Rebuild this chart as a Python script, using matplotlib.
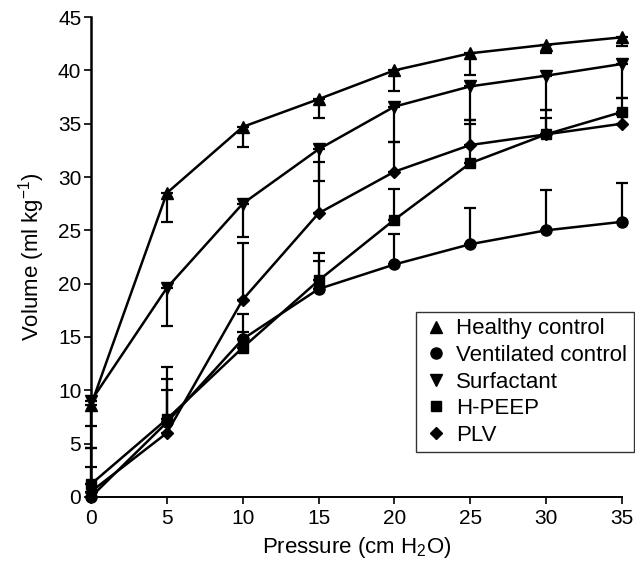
import matplotlib
matplotlib.use('Agg')
import matplotlib.pyplot as plt
from matplotlib.lines import Line2D
import numpy as np

plt.rcParams['font.family'] = ['Liberation Sans', 'DejaVu Sans']
plt.rcParams['mathtext.default'] = 'regular'

pressure = [0, 5, 10, 15, 20, 25, 30, 35]

# mean volumes and one-sided SD bars
healthy = [8.6, 28.5, 34.7, 37.3, 40.0, 41.6, 42.4, 43.1]
healthy_sd = [1.9, 2.7, 1.9, 1.8, 1.9, 2.0, 0.8, 0.8]
ventilated = [0.0, 7.0, 14.8, 19.5, 21.8, 23.7, 25.0, 25.8]
ventilated_sd = [0.5, 5.2, 2.4, 2.6, 2.9, 3.4, 3.8, 3.6]
surfactant = [9.0, 19.6, 27.5, 32.6, 36.6, 38.5, 39.5, 40.6]
surfactant_sd = [4.4, 3.6, 3.1, 3.0, 3.3, 3.2, 3.2, 3.2]
hpeep = [1.2, 7.3, 14.0, 20.3, 26.0, 31.3, 34.0, 36.1]
hpeep_sd = [1.6, 2.7, 1.5, 2.6, 2.9, 3.7, 2.3, 1.3]
plv = [0.5, 6.0, 18.5, 26.6, 30.5, 33.0, 34.0, 35.0]
plv_sd = [4.1, 5.1, 5.3, 4.8, 2.8, 2.3, 1.5, 0.8]

labels = ["Healthy control", "Ventilated control", "Surfactant", "H-PEEP", "PLV"]
markers = ["^", "o", "v", "s", "D"]
msizes = [9, 8, 9, 7.5, 6.5]

series = [
    (healthy, healthy_sd, "down"),
    (ventilated, ventilated_sd, "up"),
    (surfactant, surfactant_sd, "down"),
    (hpeep, hpeep_sd, "up"),
    (plv, plv_sd, "up"),
]

fig = plt.figure(figsize=(6.35, 5.62), dpi=100)
ax = fig.add_axes([0.1433, 0.1157, 0.8362, 0.854])

for (y, sd, side), lab, m, ms in zip(series, labels, markers, msizes):
    zeros = np.zeros(len(sd))
    yerr = [sd, zeros] if side == "down" else [zeros, sd]
    eb = ax.errorbar(pressure, y, yerr=yerr, fmt='none', ecolor='black',
                     elinewidth=1.6, capsize=4, capthick=1.6, zorder=2)
    for art in list(eb.lines[1]) + list(eb.lines[2]):
        art.set_clip_on(False)
    ax.plot(pressure, y, color='black', lw=1.8, marker=m, ms=ms,
            mfc='black', mec='black', clip_on=False, zorder=3)

ax.set_xlim(0, 35)
ax.set_ylim(0, 45)
ax.set_xticks(range(0, 36, 5))
ax.set_yticks(range(0, 46, 5))
ax.spines['top'].set_visible(False)
ax.spines['right'].set_visible(False)
ax.spines['left'].set_linewidth(1.8)
ax.spines['bottom'].set_linewidth(1.4)
ax.tick_params(direction='out', length=5, width=1.2, labelsize=15)
ax.tick_params(axis='x', pad=4)
ax.tick_params(axis='y', pad=2)

ax.set_xlabel("Pressure (cm H$_2$O)", fontsize=16, labelpad=5)
ax.set_ylabel("Volume (ml kg$^{-1}$)", fontsize=16, labelpad=8)

handles = [Line2D([], [], ls='none', marker=m, ms=ms, color='black')
           for m, ms in zip(markers, msizes)]
leg = ax.legend(handles, labels, loc='lower right', bbox_to_anchor=(1.022, 0.093),
                fontsize=16, frameon=True, fancybox=False, handletextpad=0.3,
                handlelength=1.2, labelspacing=0.25, borderpad=0.3,
                borderaxespad=0)
leg.get_frame().set_edgecolor('black')
leg.get_frame().set_linewidth(1.0)

fig.savefig("out.png", dpi=100)
